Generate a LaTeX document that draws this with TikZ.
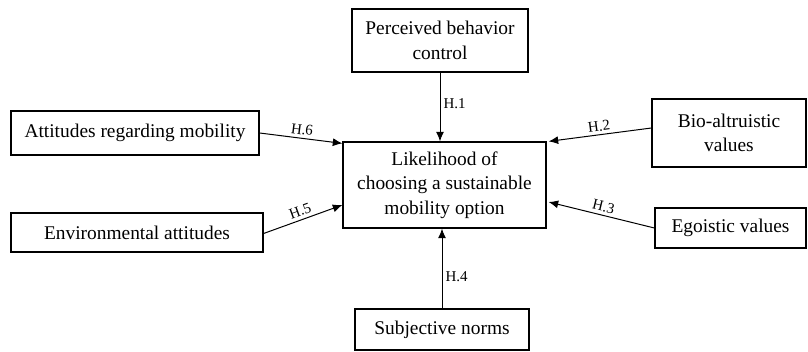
\documentclass[tikz,border=0pt]{standalone}
\usepackage{fontspec}
\setmainfont{Liberation Serif}
\usetikzlibrary{arrows.meta,positioning,calc}

\begin{document}
\begin{tikzpicture}[x=1pt,y=1pt]
    \tikzset{
      box/.style={draw,line width=0.6pt,align=center,inner sep=1pt,font=\fontsize{9.7pt}{12.2pt}\selectfont},
      link/.style={line width=0.5pt,-{Latex[length=4.8pt,width=4pt]}},
      hyp/.style={font=\fontsize{7.5pt}{9pt}\selectfont,inner sep=1.5pt}
    }
    \useasboundingbox (0,0) rectangle (404,-176);
    \node[box,minimum width=101.5pt,minimum height=43pt] (hub) at (222.25,-92.5) {Likelihood of\\choosing a sustainable\\mobility option};
    \node[box,minimum width=88pt,minimum height=31.5pt] (pbc) at (220,-20.25) {Perceived behavior\\control};
    \node[box,minimum width=124pt,minimum height=22pt] (att) at (67.5,-66.5) {Attitudes regarding mobility};
    \node[box,minimum width=126pt,minimum height=19.5pt] (env) at (68.5,-116.25) {Environmental attitudes};
    \node[box,minimum width=77pt,minimum height=34pt] (bio) at (364.5,-66.5) {Bio-altruistic\\values};
    \node[box,minimum width=75.5pt,minimum height=20pt] (ego) at (365.25,-114) {Egoistic values};
    \node[box,minimum width=87pt,minimum height=20.5pt] (sub) at (221,-164.75) {Subjective norms};

    % hypotheses
    \draw[link] (pbc.south) -- node[hyp,right,pos=0.45] {H.1} (pbc.south |- hub.north);
    \draw[link] ([yshift=2.5pt]bio.west) -- node[hyp,above,sloped] {H.2} ([xshift=1pt]hub.north east);
    \draw[link] (ego.west) -- node[hyp,above,sloped] {H.3} ([shift={(1pt,-8.5pt)}]hub.east);
    \draw[link] (sub.north) -- node[hyp,right,pos=0.4] {H.4} (sub.north |- hub.south);
    \draw[link] ([yshift=-0.5pt]env.east) -- node[hyp,above,sloped] {H.5} ([yshift=-10pt]hub.west);
    \draw[link] (att.east) -- node[hyp,above,sloped] {H.6} ([yshift=-1pt]hub.north west);
  \end{tikzpicture}
\end{document}
